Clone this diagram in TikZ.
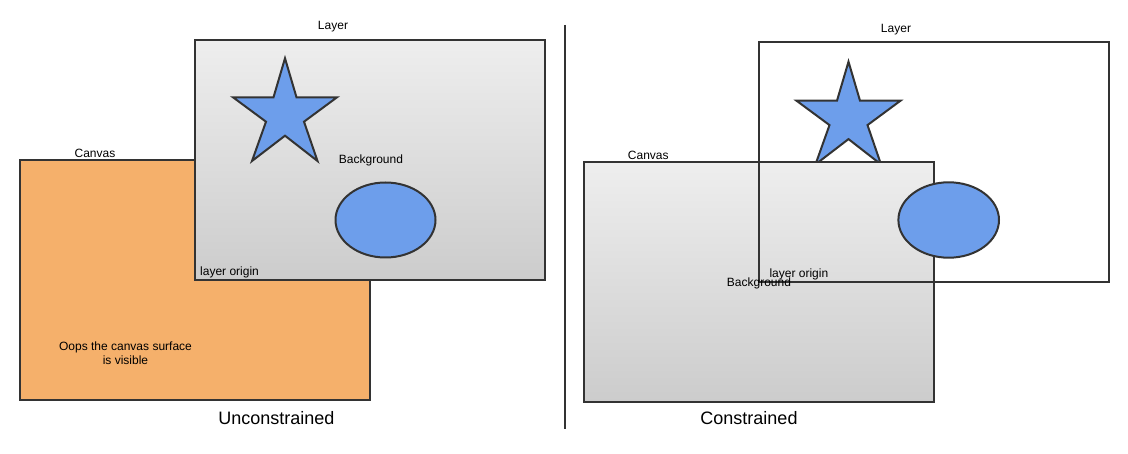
\documentclass[tikz,border=0pt]{standalone}
\usepackage{fontspec}
\setmainfont{Liberation Sans}
\definecolor{strokec}{HTML}{333333}
\definecolor{canvasorange}{HTML}{F5B06B}
\definecolor{blueshape}{HTML}{6D9EEB}
\definecolor{gtop}{HTML}{EEEEEE}
\definecolor{gbot}{HTML}{CCCCCC}
\begin{document}
\begin{tikzpicture}[x=1pt,y=-1pt,
  box/.style={draw=strokec, line width=2pt},
  gradbox/.style={box, top color=gtop, bottom color=gbot},
  shapefill/.style={draw=strokec, line width=2pt, fill=blueshape, line join=miter},
  lbl/.style={font=\fontsize{12}{13.6}\selectfont, inner sep=0pt, text=black},
  big/.style={font=\fontsize{18}{21}\selectfont, inner sep=0pt, text=black}]
\useasboundingbox (0,0) rectangle (1128,454);
\fill[white] (0,0) rectangle (1128,454);

% ---------- Left: Unconstrained ----------
\draw[box, fill=canvasorange] (20,160) rectangle (370,400);
\draw[gradbox] (195,40) rectangle (545,280);
\def\starpath{(285,58.3) -- (296.5,97.3) -- (337,97.3) -- (304,121.7) -- (317.5,161) -- (285,135.7) -- (252,161) -- (266,121.7) -- (233,97.3) -- (273.5,97.3) -- cycle}
\draw[shapefill] \starpath;
\draw[shapefill] (385.5,220) ellipse [x radius=50, y radius=37.5];

\node[lbl] (layerL) at (333,27) {Layer};
\node[lbl] (canvasL) at (95,153) {Canvas};
\node[lbl] (bgL) at (371,160) {Background};
\node[lbl, anchor=west] (originL) at (200,272) {layer origin};
\node[lbl, align=center] (oops) at (125.5,353.5) {Oops the canvas surface\\is visible};
\node[big] (uncon) at (276.4,418.3) {Unconstrained};

% ---------- Divider ----------
\coordinate (divtop) at (564.5,25);
\coordinate (divbot) at (564.5,429);
\draw[strokec, line width=2pt] (divtop) -- (divbot);

% ---------- Right: Constrained ----------
\begin{scope}[shift={(563.5,3.4)}]
\draw[shapefill] \starpath;
\end{scope}
\draw[gradbox] (583.5,162) rectangle (933.5,402.5);
\draw[box] (758.5,42) rectangle (1108.5,282);
\draw[shapefill] (948.7,220) ellipse [x radius=50.3, y radius=37.7];

\node[lbl] (layerR) at (896,30) {Layer};
\node[lbl] (canvasR) at (648.3,155.7) {Canvas};
\node[lbl, anchor=west] (bgR) at (726.7,283.3) {Background};
\node[lbl, anchor=west] (originR) at (769.3,274.3) {layer origin};
\node[big] (con) at (749,418.3) {Constrained};
\end{tikzpicture}
\end{document}
